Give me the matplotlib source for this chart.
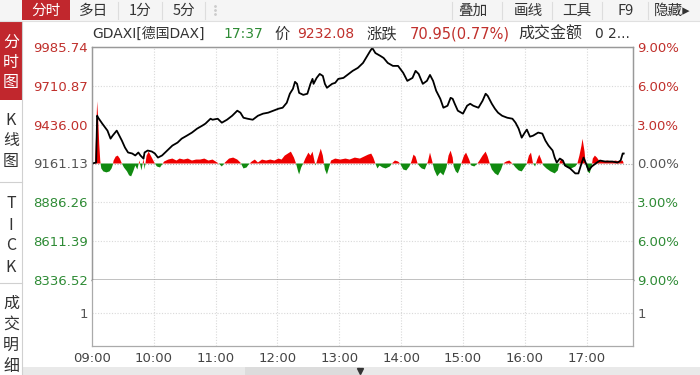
import matplotlib.pyplot as plt
from matplotlib.patches import Rectangle
import numpy as np

plt.rcParams['font.family'] = ['DejaVu Sans', 'Noto Sans CJK SC']

W, H = 700, 375

prev_close = 9161.13
price_ticks = [9985.74, 9710.87, 9436.00, 9161.13, 8886.26, 8611.39, 8336.52]
pct_labels = ['9.00%', '6.00%', '3.00%', '0.00%', '3.00%', '6.00%', '9.00%']
hour_labels = ['09:00', '10:00', '11:00', '12:00', '13:00', '14:00',
               '15:00', '16:00', '17:00']

# price line, minutes after 09:00
t_price = [0, 4, 5, 6, 10, 15, 18, 20, 24, 25,
           29, 32, 35, 39, 42, 45, 47, 50, 51, 54,
           58, 61, 64, 68, 73, 78, 83, 87, 92, 97,
           102, 107, 110, 115, 117, 122, 126, 131, 136, 141,
           144, 147, 151, 156, 161, 166, 171, 176, 181, 185,
           189, 192, 195, 197, 199, 201, 205, 209, 212, 214,
           215, 218, 221, 224, 226, 228, 233, 236, 239, 244,
           249, 253, 258, 263, 267, 270, 272, 275, 280, 283,
           287, 292, 297, 302, 306, 311, 314, 317, 321, 325,
           328, 331, 334, 338, 341, 345, 348, 350, 352, 355,
           360, 364, 367, 370, 375, 379, 382, 384, 388, 391,
           394, 398, 403, 408, 411, 414, 417, 420, 422, 425,
           428, 433, 437, 440, 443, 447, 449, 451, 454, 457,
           459, 464, 469, 472, 475, 477, 479, 482, 485, 490,
           493, 498, 505, 510, 513, 515, 516]
price = [9161, 9168, 9500, 9485, 9443, 9394, 9337, 9358, 9394, 9380,
         9323, 9274, 9239, 9232, 9218, 9239, 9218, 9196, 9239, 9253,
         9246, 9232, 9203, 9218, 9253, 9288, 9309, 9337, 9358, 9380,
         9408, 9429, 9443, 9478, 9471, 9478, 9450, 9471, 9499, 9535,
         9521, 9485, 9478, 9471, 9499, 9514, 9521, 9535, 9549, 9556,
         9591, 9655, 9690, 9739, 9725, 9661, 9647, 9655, 9725, 9760,
         9725, 9767, 9795, 9781, 9725, 9697, 9725, 9732, 9760, 9767,
         9795, 9817, 9838, 9873, 9922, 9958, 9979, 9943, 9922, 9908,
         9873, 9852, 9852, 9803, 9746, 9767, 9817, 9795, 9725, 9746,
         9788, 9746, 9676, 9619, 9556, 9570, 9626, 9619, 9584, 9535,
         9514, 9570, 9584, 9570, 9556, 9605, 9655, 9640, 9584, 9549,
         9521, 9499, 9485, 9478, 9450, 9408, 9344, 9380, 9401, 9351,
         9358, 9380, 9373, 9323, 9288, 9253, 9203, 9168, 9196, 9182,
         9147, 9126, 9091, 9091, 9161, 9203, 9168, 9112, 9140, 9168,
         9182, 9175, 9175, 9168, 9182, 9232.08, 9232.08]

# red / green bars around the previous close (points)
t_bar = [0, 3, 4, 5, 6, 7, 8, 9, 11, 14,
         17, 19, 20, 21, 23, 25, 27, 29, 31, 34,
         36, 38, 40, 42, 44, 46, 48, 50, 51, 53,
         55, 57, 59, 61, 63, 66, 68, 70, 74, 78,
         82, 85, 89, 93, 97, 101, 105, 109, 113, 117,
         120, 123, 126, 129, 133, 137, 141, 144, 147, 150,
         152, 155, 158, 161, 165, 169, 173, 177, 181, 184,
         187, 190, 193, 196, 198, 200, 201, 203, 205, 207,
         210, 212, 214, 216, 217, 219, 222, 224, 226, 228,
         230, 232, 236, 241, 246, 250, 255, 260, 264, 268,
         271, 273, 275, 277, 279, 282, 285, 289, 291, 294,
         297, 299, 302, 305, 308, 310, 312, 314, 316, 318,
         320, 323, 326, 328, 330, 332, 335, 338, 341, 344,
         346, 348, 350, 351, 353, 355, 357, 359, 361, 363,
         366, 368, 371, 374, 376, 379, 382, 384, 386, 388,
         391, 394, 397, 399, 402, 405, 408, 411, 414, 417,
         419, 422, 424, 426, 428, 430, 432, 434, 436, 438,
         441, 445, 449, 452, 454, 456, 458, 461, 465, 469,
         471, 473, 475, 476, 478, 479, 481, 483, 485, 486,
         488, 490, 492, 496, 500, 504, 508, 512, 515, 516]
bar = [0, 0, 210, 441, 315, 140, 21, -35, -56, -63,
       -56, -35, -14, 21, 49, 56, 35, 0, -28, -56,
       -84, -91, -56, -14, -42, 21, -49, 35, -42, 56,
       84, 56, 28, 0, -21, -28, -7, 14, 28, 35,
       21, 35, 28, 35, 21, 28, 28, 35, 21, 28,
       14, 0, -21, 7, 35, 42, 28, 7, -35, -28,
       -7, 14, 28, 7, 28, 21, 28, 21, 35, 28,
       56, 70, 84, 42, 0, -56, -77, -28, 0, 35,
       77, 56, 84, 14, -14, 35, 105, 56, -42, -77,
       -28, 21, 35, 28, 35, 28, 42, 35, 49, 63,
       70, 42, 0, -35, -14, -28, -35, -21, 0, 21,
       14, 0, -42, -49, -21, 14, 63, 49, 0, -21,
       -35, -42, 14, 77, 21, -42, -91, -63, -84, -28,
       56, 91, 42, -21, -56, -70, -35, 14, 56, 77,
       28, -14, -21, 0, 21, 56, 84, 49, 0, -42,
       -70, -84, -42, 0, 14, 21, 0, -28, -49, -56,
       -35, 0, 56, 77, 0, -21, 28, 63, 28, -14,
       -35, -56, -70, -49, 14, 35, -14, -28, -35, -21,
       0, 56, 126, 175, 84, 0, -56, -70, -14, 35,
       56, 42, 21, 14, 21, 14, 21, 14, 21, 0]

RED = '#c0302c'
GREEN = '#2e8b35'
GREY = '#555555'
FS = 9.5


def fx(x):
    return x / W


def fy(y):
    return 1 - y / H


fig = plt.figure(figsize=(7, 3.75), dpi=100)
fig.patch.set_facecolor('white')

# ---- price panel
ax = fig.add_axes([fx(92), fy(280), fx(633) - fx(92), fy(47) - fy(280)])
ax.set_xlim(0, 525)
ax.set_ylim(price_ticks[-1], price_ticks[0])

tb = np.array(t_bar)
vb = np.array(bar, dtype=float)
ax.fill_between(tb, prev_close, prev_close + vb, where=vb >= 0,
                interpolate=True, color='#ee0000', lw=0, zorder=2)
ax.fill_between(tb, prev_close, prev_close + vb, where=vb <= 0,
                interpolate=True, color='#108a10', lw=0, zorder=2)
ax.plot(t_price, price, color='black', lw=1.3, zorder=3)

for p in price_ticks[1:-1]:
    c = '#aaaaaa' if p == prev_close else '#d9d9d9'
    ax.axhline(p, color=c, lw=0.8, ls=(0, (1, 1.5)), zorder=1)
for i in range(1, 9):
    ax.axvline(i * 60, color='#d9d9d9', lw=0.8, ls=(0, (1, 1.5)), zorder=1)

ax.set_yticks(price_ticks)
ax.set_yticklabels(['%.2f' % p for p in price_ticks])
ax.tick_params(axis='y', length=0, pad=3, labelsize=FS)
ax.set_xticks([])
for i, lab in enumerate(ax.get_yticklabels()):
    lab.set_color(RED if i < 3 else (GREY if i == 3 else GREEN))

axr = ax.twinx()
axr.set_ylim(ax.get_ylim())
axr.set_yticks(price_ticks)
axr.set_yticklabels(pct_labels)
axr.tick_params(axis='y', length=0, pad=3, labelsize=FS)
for i, lab in enumerate(axr.get_yticklabels()):
    lab.set_color(RED if i < 3 else (GREY if i == 3 else GREEN))

for a in (ax, axr):
    for s in ('top', 'left', 'right'):
        a.spines[s].set_color('#999999')
        a.spines[s].set_linewidth(0.9)
    a.spines['bottom'].set_color('#555555')
    a.spines['bottom'].set_linewidth(1.0)

# ---- amount panel
axv = fig.add_axes([fx(92), fy(346), fx(633) - fx(92), fy(280) - fy(346)])
axv.set_xlim(0, 525)
axv.set_ylim(0, 2)
axv.axhline(1, color='#d9d9d9', lw=0.8, ls=(0, (1, 1.5)))
for i in range(1, 9):
    axv.axvline(i * 60, color='#d9d9d9', lw=0.8, ls=(0, (1, 1.5)))
axv.set_yticks([1])
axv.set_yticklabels(['1'])
axv.tick_params(axis='y', length=0, pad=3, labelsize=FS, labelcolor=GREY,
                labelleft=True, labelright=True)
axv.set_xticks([i * 60 for i in range(9)])
axv.set_xticklabels(hour_labels)
axv.tick_params(axis='x', length=0, pad=4, labelsize=FS, labelcolor='#444444')
axv.spines['top'].set_visible(False)
for s in ('left', 'right', 'bottom'):
    axv.spines[s].set_color('#aaaaaa')
    axv.spines[s].set_linewidth(0.9)

# ---- header line
hy = fy(34)
parts = [(92, 'GDAXI[德国DAX]', '#333333', 10), (223, '17:37', GREEN, 10),
         (274, '价', '#333333', 11), (297, '9232.08', RED, 10),
         (367, '涨跌', '#333333', 11), (410, '70.95(0.77%)', RED, 10.5),
         (518, '成交金额', '#333333', 11.5), (594, '0', '#333333', 10),
         (608, '2...', '#333333', 10)]
for x, s, c, size in parts:
    fig.text(fx(x), hy, s, color=c, fontsize=size, ha='left', va='center')

# ---- top tab bar
fig.patches.append(Rectangle((0, fy(21)), 1, fy(0) - fy(21), transform=fig.transFigure,
                             facecolor='#f5f5f5', edgecolor='none', zorder=0))
fig.patches.append(Rectangle((fx(22), fy(20)), fx(70) - fx(22), fy(0) - fy(20),
                             transform=fig.transFigure, facecolor='#c1272d',
                             edgecolor='none', zorder=1))
tabs = [(46, '分时', 'white'), (94, '多日', '#333333'), (140, '1分', '#333333'),
        (184, '5分', '#333333'), (473, '叠加', '#333333'), (528, '画线', '#333333'),
        (577, '工具', '#333333'), (626, 'F9', '#333333'), (672, '隐藏▸', '#333333')]
for x, s, c in tabs:
    fig.text(fx(x), fy(11), s, color=c, fontsize=10.5, ha='center', va='center',
             family=['Noto Sans CJK SC', 'DejaVu Sans'])
for x in (118, 162, 205, 452, 502, 552, 602, 648):
    fig.add_artist(plt.Line2D([fx(x), fx(x)], [fy(19), fy(2)], color='#dddddd', lw=0.8))
fig.add_artist(plt.Line2D([0, 1], [fy(21), fy(21)], color='#e0e0e0', lw=0.8))
for yy in (6, 10, 14):
    fig.add_artist(plt.Line2D([fx(215)], [fy(yy)], marker='.', ms=2, color='#cccccc'))

# ---- left side bar
fig.patches.append(Rectangle((0, fy(100)), fx(22), fy(22) - fy(100),
                             transform=fig.transFigure, facecolor='#c1272d',
                             edgecolor='none', zorder=1))
side = [('分', 43, 'white'), ('时', 62, 'white'), ('图', 82, 'white'),
        ('K', 120, '#333333'), ('线', 141, '#333333'), ('图', 162, '#333333'),
        ('T', 203, '#333333'), ('I', 225, '#333333'), ('C', 246, '#333333'),
        ('K', 267, '#333333'),
        ('成', 303, '#333333'), ('交', 324, '#333333'), ('明', 345, '#333333'),
        ('细', 366, '#333333')]
for s, y, c in side:
    fig.text(fx(11), fy(y), s, color=c, fontsize=11.5, ha='center', va='center',
             family=['Noto Sans CJK SC', 'DejaVu Sans'])
for y in (182, 283):
    fig.add_artist(plt.Line2D([0, fx(22)], [fy(y), fy(y)], color='#d0d0d0', lw=0.8))
fig.add_artist(plt.Line2D([fx(22), fx(22)], [fy(22), 0], color='#d0d0d0', lw=0.8))

# ---- bottom strip
fig.patches.append(Rectangle((fx(22), 0), 1 - fx(22), fy(367), transform=fig.transFigure,
                             facecolor='#e9e9e9', edgecolor='none', zorder=0))
fig.patches.append(Rectangle((fx(245), 0), fx(360) - fx(245), fy(367),
                             transform=fig.transFigure, facecolor='#dcdcdc',
                             edgecolor='none', zorder=0))
fig.add_artist(plt.Line2D([fx(360)], [fy(371)], marker='v', ms=4, color='#333333'))

fig.savefig('out.png', dpi=100)
